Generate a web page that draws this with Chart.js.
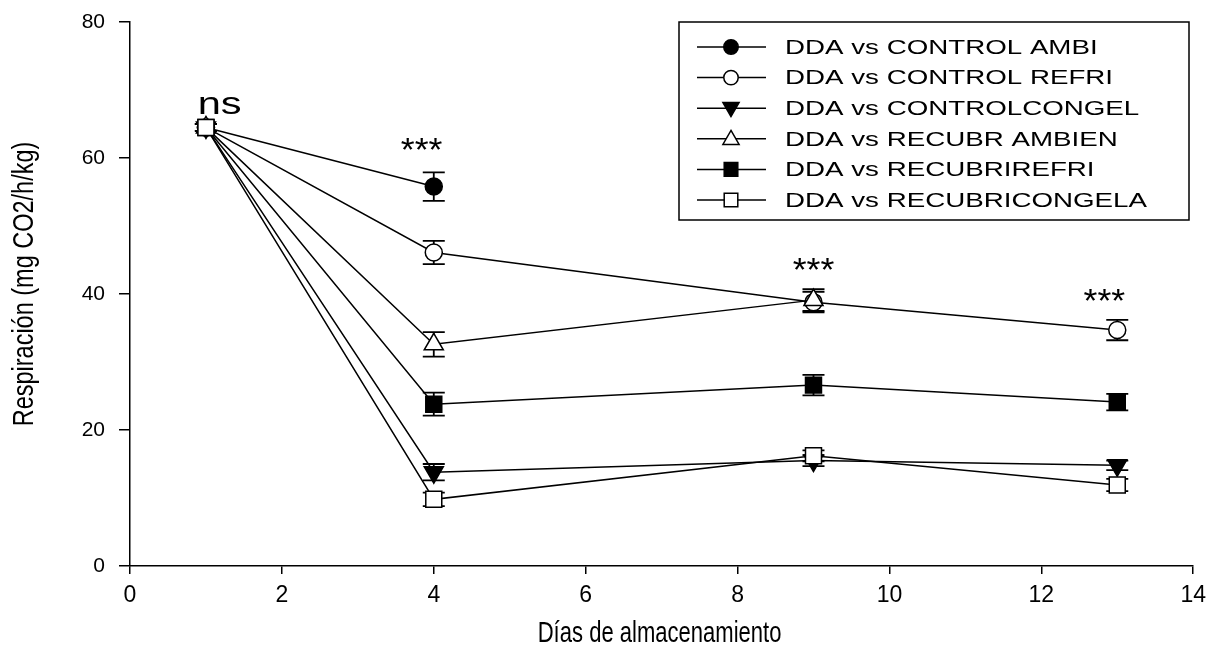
<!DOCTYPE html>
<html>
<head>
<meta charset="utf-8">
<script src="https://cdn.jsdelivr.net/npm/chart.js@4.4.1/dist/chart.umd.min.js"></script>
<style>
  html, body { margin: 0; padding: 0; background: #fff; }
  #wrap { width: 1214px; height: 652px; }
</style>
</head>
<body>
<div id="wrap"><canvas id="chartCanvas" width="1214" height="652"></canvas></div>
<script>
// dias de almacenamiento
const days = [1, 4, 9, 13];

// respiracion (mg CO2/h/kg) por tratamiento
const seriesNames = [
  'DDA vs CONTROL AMBI',
  'DDA vs CONTROL REFRI',
  'DDA vs CONTROLCONGEL',
  'DDA vs RECUBR AMBIEN',
  'DDA vs RECUBRIREFRI',
  'DDA vs RECUBRICONGELA'
];
const controlAmbi   = [64.5, 55.8];
const controlRefri  = [64.5, 46.1, 38.8, 34.7];
const controlCongel = [64.5, 13.8, 15.5, 14.8];
const recubrAmbien  = [64.5, 32.6, 39.1];
const recubriRefri  = [64.5, 23.8, 26.6, 24.1];
const recubriCongel = [64.5, 9.8, 16.2, 11.9];

// error estandar
const errAmbi   = [0.5, 2.1];
const errRefri  = [0.5, 1.7, 1.5, 1.5];
const errCongel = [0.5, 1.2, 0.8, 0.7];
const errRAmb   = [0.5, 1.8, 1.6];
const errRRefri = [0.5, 1.7, 1.5, 1.2];
const errRCong  = [0.5, 1.0, 0.8, 0.9];

// significancia
const sigLabels = ['ns', '***', '***', '***'];
const sigX = [1.18, 3.84, 9.0, 12.83];
const sigY = [67.8, 62.2, 44.6, 40.1];

// tick labels y titulos
const xTicks = [0, 2, 4, 6, 8, 10, 12, 14];
const yTicks = [0, 20, 40, 60, 80];
const xTitle = 'Días de almacenamiento';
const yTitle = 'Respiración (mg CO2/h/kg)';

const values = [controlAmbi, controlRefri, controlCongel, recubrAmbien, recubriRefri, recubriCongel];
const errors = [errAmbi, errRefri, errCongel, errRAmb, errRRefri, errRCong];

// estilo de marcadores
const markers = [
  { style: 'circle', fill: '#000', r: 8.5, rot: 0 },
  { style: 'circle', fill: '#fff', r: 8.5, rot: 0 },
  { style: 'triangle', fill: '#000', r: 11, rot: 180 },
  { style: 'triangle', fill: '#fff', r: 11, rot: 0 },
  { style: 'rect', fill: '#000', r: 11.3, rot: 0 },
  { style: 'rect', fill: '#fff', r: 11.3, rot: 0 }
];

const font = "'Liberation Sans', Arial, sans-serif";

const datasets = values.map((vals, i) => ({
  label: seriesNames[i],
  data: vals.map((v, j) => ({ x: days[j], y: v })),
  order: values.length - i,
  borderColor: '#000',
  borderWidth: 1.5,
  backgroundColor: markers[i].fill,
  pointBackgroundColor: markers[i].fill,
  pointBorderColor: '#000',
  pointBorderWidth: 1.5,
  pointStyle: markers[i].style,
  pointRadius: markers[i].r,
  pointRotation: markers[i].rot,
  pointHoverRadius: markers[i].r,
  fill: false,
  tension: 0,
  errs: errors[i]
}));

function drawMarker(ctx, m, x, y, r) {
  ctx.save();
  ctx.fillStyle = m.fill;
  ctx.strokeStyle = '#000';
  ctx.lineWidth = 1.5;
  ctx.beginPath();
  if (m.style === 'circle') {
    ctx.arc(x, y, r, 0, Math.PI * 2);
  } else if (m.style === 'rect') {
    const s = r * Math.SQRT1_2;
    ctx.rect(x - s, y - s, 2 * s, 2 * s);
  } else {
    let a = m.rot * Math.PI / 180;
    ctx.moveTo(x + Math.sin(a) * r, y - Math.cos(a) * r);
    for (let k = 0; k < 2; k++) {
      a += Math.PI * 2 / 3;
      ctx.lineTo(x + Math.sin(a) * r, y - Math.cos(a) * r);
    }
    ctx.closePath();
  }
  ctx.fill();
  ctx.stroke();
  ctx.restore();
}

// texto estirado/comprimido en la direccion del texto
function stretchText(ctx, text, x, y, sx, rot) {
  ctx.save();
  ctx.translate(x, y);
  if (rot) ctx.rotate(rot);
  ctx.scale(sx, 1);
  ctx.fillText(text, 0, 0);
  ctx.restore();
}

const errorBars = {
  id: 'errorBars',
  beforeDatasetsDraw(chart) {
    const { ctx, scales: { x, y } } = chart;
    ctx.save();
    ctx.strokeStyle = '#000';
    ctx.lineWidth = 1.8;
    chart.data.datasets.forEach(ds => {
      ds.data.forEach((p, j) => {
        const e = ds.errs[j];
        const px = x.getPixelForValue(p.x);
        const top = y.getPixelForValue(p.y + e);
        const bot = y.getPixelForValue(p.y - e);
        ctx.beginPath();
        ctx.moveTo(px, top); ctx.lineTo(px, bot);
        ctx.moveTo(px - 11, top); ctx.lineTo(px + 11, top);
        ctx.moveTo(px - 11, bot); ctx.lineTo(px + 11, bot);
        ctx.stroke();
      });
    });
    ctx.restore();
  }
};

const extras = {
  id: 'extras',
  afterDraw(chart) {
    const { ctx, chartArea, scales: { x, y } } = chart;
    ctx.save();
    ctx.fillStyle = '#000';
    ctx.textAlign = 'center';
    ctx.textBaseline = 'middle';
    sigLabels.forEach((t, i) => {
      const px = x.getPixelForValue(sigX[i]);
      const py = y.getPixelForValue(sigY[i]);
      if (t === 'ns') {
        ctx.font = '32px ' + font;
        stretchText(ctx, t, px, py, 1.3);
      } else {
        ctx.font = '34px ' + font;
        stretchText(ctx, t, px, py + 9, 1.05);
      }
    });

    // titulos de ejes (letra condensada)
    ctx.font = '29px ' + font;
    stretchText(ctx, xTitle, (chartArea.left + chartArea.right) / 2 - 2, 634, 0.76);
    ctx.font = '29px ' + font;
    stretchText(ctx, yTitle, 25, 284, 0.81, -Math.PI / 2);

    // leyenda
    const bx = 679, by = 22, bw = 510, bh = 198;
    ctx.strokeStyle = '#000';
    ctx.lineWidth = 1.5;
    ctx.strokeRect(bx, by, bw, bh);
    ctx.font = '21px ' + font;
    ctx.textAlign = 'left';
    seriesNames.forEach((name, i) => {
      const ly = 47 + i * 30.6;
      ctx.beginPath();
      ctx.moveTo(697, ly); ctx.lineTo(766, ly);
      ctx.stroke();
      const m = markers[i];
      drawMarker(ctx, m, 731, ly + (m.style === 'triangle' ? (m.rot ? -1 : 1) : 0), m.r * 0.85);
      ctx.fillStyle = '#000';
      stretchText(ctx, name, 785, ly + 1, 1.32);
    });
    ctx.restore();
  }
};

new Chart(document.getElementById('chartCanvas'), {
  type: 'line',
  data: { datasets },
  plugins: [errorBars, extras],
  options: {
    responsive: false,
    animation: false,
    events: [],
    layout: { padding: { top: 22, right: 17, left: 0, bottom: 0 } },
    plugins: { legend: { display: false }, tooltip: { enabled: false } },
    scales: {
      x: {
        type: 'linear',
        min: 0, max: 14,
        afterBuildTicks: s => { s.ticks = xTicks.map(v => ({ value: v })); },
        afterFit: s => { s.height = 86; },
        grid: { drawOnChartArea: false, drawTicks: true, tickLength: 8, color: '#000', lineWidth: 1.5 },
        border: { display: true, color: '#000', width: 1.5 },
        ticks: { color: '#000', font: { family: font, size: 23 }, padding: 8, maxRotation: 0 },
        title: { display: false }
      },
      y: {
        type: 'linear',
        min: 0, max: 80,
        afterBuildTicks: s => { s.ticks = yTicks.map(v => ({ value: v })); },
        afterFit: s => { s.width = 130; s.paddingTop = 0; s.paddingBottom = 0; },
        grid: { drawOnChartArea: false, drawTicks: true, tickLength: 11, color: '#000', lineWidth: 1.5 },
        border: { display: true, color: '#000', width: 1.5 },
        ticks: { color: '#000', font: { family: font, size: 21 }, padding: 14 },
        title: { display: false }
      }
    }
  }
});
</script>
</body>
</html>
